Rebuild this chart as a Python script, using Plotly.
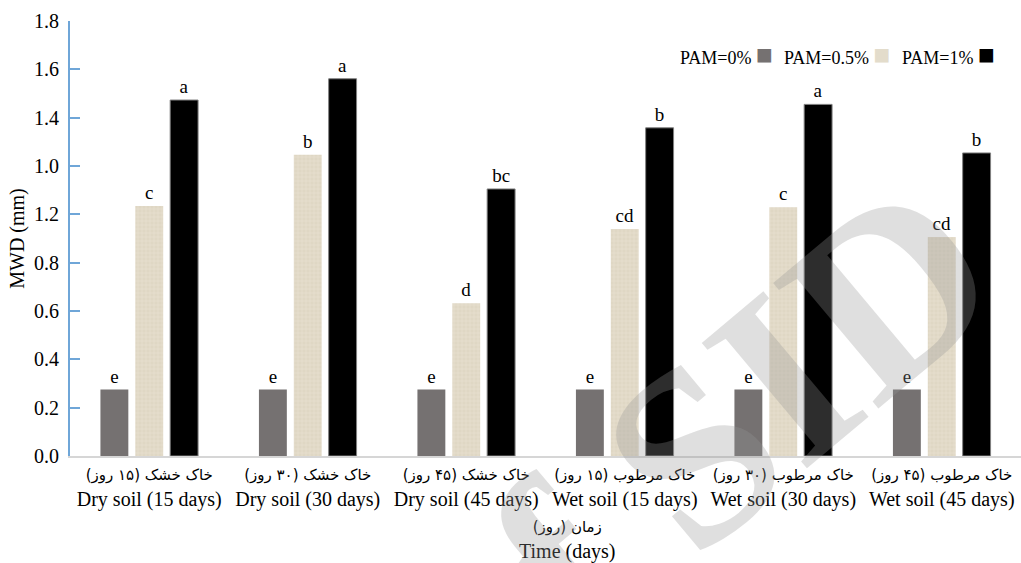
import plotly.graph_objects as go

FA = "<span style='font-family:DejaVu Sans;font-size:15px'>\u2067{}\u2069</span>"
persian = ["خاک خشک (۱۵ روز)", "خاک خشک (۳۰ روز)", "خاک خشک (۴۵ روز)",
           "خاک مرطوب (۱۵ روز)", "خاک مرطوب (۳۰ روز)", "خاک مرطوب (۴۵ روز)"]
english = ["Dry soil (15 days)", "Dry soil (30 days)", "Dry soil (45 days)",
           "Wet soil (15 days)", "Wet soil (30 days)", "Wet soil (45 days)"]
categories = [FA.format(p) + "<br>" + e for p, e in zip(persian, english)]
series_names = ["PAM=0%", "PAM=0.5%", "PAM=1%"]
pam0 = [0.275, 0.275, 0.275, 0.275, 0.275, 0.275]
pam05 = [1.035, 1.247, 0.632, 0.939, 1.029, 0.906]
pam1 = [1.473, 1.561, 1.105, 1.358, 1.455, 1.254]
letters0 = ["e", "e", "e", "e", "e", "e"]
letters05 = ["c", "b", "d", "cd", "c", "cd"]
letters1 = ["a", "a", "bc", "b", "a", "b"]
tick_vals = [0.0, 0.2, 0.4, 0.6, 0.8, 1.0, 1.2, 1.4, 1.6, 1.8]
tick_text = ["0.0", "0.2", "0.4", "0.6", "0.8", "1.2", "1.0", "1.4", "1.6", "1.8"]
x_title_fa = "زمان (روز)"
x_title_en = "Time (days)"

SERIF = "Liberation Serif, Times New Roman, DejaVu Serif"
GRAY = "#757171"
BEIGE = "#ddd5c1"
BLACK = "#000000"
AXBLUE = "#6fa6d8"

fig = go.Figure()
fig.add_trace(go.Bar(
    x=categories, y=pam0, name=series_names[0], text=letters0,
    marker=dict(color=GRAY, line=dict(width=0)),
))
fig.add_trace(go.Bar(
    x=categories, y=pam05, name=series_names[1], text=letters05,
    marker=dict(color=BEIGE, line=dict(width=0),
                pattern=dict(shape="+", fgcolor="#cdc3aa", bgcolor="#e4dccb",
                             size=4, solidity=0.2)),
))
fig.add_trace(go.Bar(
    x=categories, y=pam1, name=series_names[2], text=letters1,
    marker=dict(color=BLACK, line=dict(width=1, color="#808080")),
))
fig.update_traces(textposition="outside", cliponaxis=False,
                  textfont=dict(family=SERIF, size=19, color="black"),
                  showlegend=False)

fig.update_layout(
    width=1021, height=563,
    margin=dict(l=70, r=0, t=21, b=107),
    paper_bgcolor="white", plot_bgcolor="white",
    barmode="group", bargap=0.34, bargroupgap=0.2,
    font=dict(family=SERIF, size=20, color="black"),
)
fig.update_xaxes(
    showline=True, linecolor="#d6d6d6", linewidth=2,
    ticks="", showgrid=False, tickangle=0, automargin=False,
    ticklabelstandoff=-2,
    tickfont=dict(family=SERIF, size=20, color="black"),
)
fig.update_yaxes(
    range=[0, 1.8], tickvals=tick_vals, ticktext=tick_text,
    showline=True, linecolor=AXBLUE, linewidth=2,
    ticks="inside", ticklen=10, tickwidth=2, tickcolor=AXBLUE,
    ticklabelstandoff=5, automargin=False,
    showgrid=False, zeroline=False,
    tickfont=dict(family=SERIF, size=20, color="black"),
    title=dict(text="MWD (mm)", font=dict(family=SERIF, size=20), standoff=4),
)

# legend (text followed by a colour square, as in the reference)
legend_items = [
    (series_names[0], GRAY, 0.741),
    (series_names[1], "#e3dccb", 0.864),
    (series_names[2], BLACK, 0.975),
]
for name, col, xp in legend_items:
    fig.add_annotation(
        xref="paper", yref="paper", x=xp, y=0.924, xanchor="right", yanchor="middle",
        text=f"{name} <span style='color:{col};font-size:28px'>■</span>", showarrow=False,
        font=dict(family=SERIF, size=18, color="black"),
    )

# x axis title
fig.add_annotation(
    xref="paper", yref="paper", x=0.523, y=-0.138, xanchor="center", yanchor="top",
    text=FA.format(x_title_fa) + "<br>" + x_title_en, showarrow=False,
    font=dict(family=SERIF, size=20, color="black"),
)

# watermark
fig.add_annotation(
    xref="paper", yref="paper", x=0.658, y=0.01, xanchor="center", yanchor="middle",
    text="<b>of SID</b>", showarrow=False, textangle=-40,
    font=dict(family=SERIF, size=250, color="rgba(150,150,150,0.30)"),
)

fig.write_html("out.html", config={"displayModeBar": False},
               post_script="document.body.style.margin='0px';")
